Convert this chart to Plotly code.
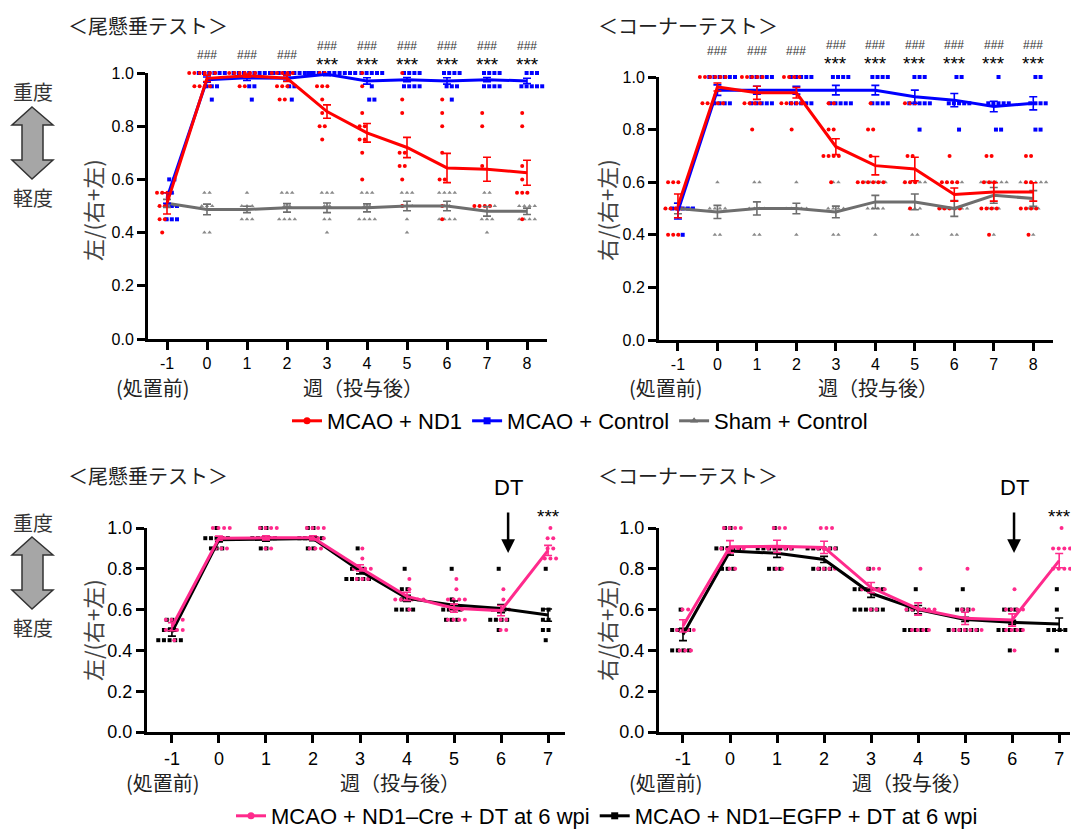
import plotly.graph_objects as go

# page body adds an 8px margin; figure is sized/positioned to compensate
OFF = 8
W, H = 1079 - OFF, 831 - OFF
def px(x): return (x - OFF) / W
def py(y): return 1 - (y - OFF) / H

# ---------------- data ----------------
weeks_top = [-1, 0, 1, 2, 3, 4, 5, 6, 7, 8]
weeks_bot = [-1, 0, 1, 2, 3, 4, 5, 6, 7]
ytick_vals = [0.0, 0.2, 0.4, 0.6, 0.8, 1.0]
ytick_text = ["0.0", "0.2", "0.4", "0.6", "0.8", "1.0"]

# Tail suspension test (top-left)
tail_nd1_mean = [0.51, 0.98, 0.99, 0.98, 0.855, 0.775, 0.72, 0.643, 0.638, 0.625]
tail_nd1_sem = [0.04, 0.012, 0.006, 0.012, 0.025, 0.035, 0.038, 0.055, 0.045, 0.047]
tail_ctrl_mean = [0.53, 0.975, 0.982, 0.98, 0.995, 0.97, 0.975, 0.97, 0.975, 0.97]
tail_ctrl_sem = [0.02, 0.01, 0.01, 0.01, 0.005, 0.012, 0.008, 0.012, 0.008, 0.01]
tail_sham_mean = [0.51, 0.487, 0.487, 0.493, 0.493, 0.493, 0.5, 0.5, 0.48, 0.48]
tail_sham_sem = [0.015, 0.02, 0.012, 0.016, 0.018, 0.015, 0.018, 0.018, 0.018, 0.012]

tail_nd1_pts = [
    [0.55, 0.55, 0.55, 0.5, 0.5, 0.45, 0.45, 0.4],
    [1.0, 1.0, 1.0, 1.0, 1.0, 1.0, 0.95, 0.95, 0.95, 0.95],
    [1.0, 1.0, 1.0, 1.0, 1.0, 1.0, 0.95, 0.95],
    [1.0, 1.0, 1.0, 1.0, 1.0, 0.95, 0.95, 0.95, 0.9, 0.9],
    [1.0, 1.0, 0.95, 0.95, 0.95, 0.9, 0.85, 0.8, 0.8, 0.75],
    [1.0, 0.95, 0.85, 0.8, 0.8, 0.75, 0.75, 0.7, 0.6],
    [1.0, 0.9, 0.85, 0.7, 0.7, 0.65, 0.65, 0.6, 0.5],
    [0.9, 0.85, 0.8, 0.7, 0.6, 0.6, 0.5, 0.45],
    [0.85, 0.8, 0.65, 0.5, 0.5, 0.5, 0.5],
    [0.85, 0.8, 0.65, 0.6, 0.55, 0.55, 0.55, 0.45],
]
tail_ctrl_pts = [
    [0.6, 0.6, 0.55, 0.5, 0.5, 0.5, 0.45, 0.45, 0.45],
    [1.0, 1.0, 1.0, 1.0, 1.0, 1.0, 0.95, 0.95, 0.95, 0.9],
    [1.0, 1.0, 1.0, 1.0, 1.0, 1.0, 1.0, 1.0, 0.95, 0.95, 0.9],
    [1.0, 1.0, 1.0, 1.0, 1.0, 1.0, 1.0, 1.0, 0.95, 0.95, 0.9],
    [1.0, 1.0, 1.0, 1.0, 1.0, 1.0, 1.0, 1.0, 1.0, 1.0],
    [1.0, 1.0, 1.0, 1.0, 1.0, 0.95, 0.9, 0.9],
    [1.0, 1.0, 1.0, 1.0, 0.95, 0.95, 0.95, 0.95],
    [1.0, 1.0, 1.0, 1.0, 0.95, 0.95, 0.95, 0.9],
    [1.0, 1.0, 1.0, 1.0, 0.95, 0.95, 0.95, 0.95],
    [1.0, 1.0, 1.0, 0.95, 0.95, 0.95, 0.95, 0.95],
]
tail_sham_pts = [
    [0.55, 0.55, 0.55, 0.5, 0.5, 0.5, 0.5, 0.45],
    [0.55, 0.55, 0.5, 0.5, 0.5, 0.4, 0.4],
    [0.55, 0.5, 0.5, 0.5, 0.45, 0.45, 0.45],
    [0.55, 0.55, 0.55, 0.5, 0.5, 0.45, 0.45, 0.45, 0.45],
    [0.55, 0.55, 0.55, 0.5, 0.5, 0.45, 0.45, 0.4],
    [0.55, 0.55, 0.55, 0.5, 0.5, 0.45, 0.45, 0.45, 0.45],
    [0.55, 0.55, 0.55, 0.5, 0.5, 0.5, 0.45, 0.4],
    [0.55, 0.55, 0.55, 0.55, 0.5, 0.5, 0.45, 0.45, 0.45, 0.45],
    [0.55, 0.55, 0.5, 0.5, 0.5, 0.5, 0.45, 0.45, 0.45, 0.4],
    [0.55, 0.5, 0.5, 0.5, 0.5, 0.45, 0.45, 0.45, 0.45],
]

# Corner test (top-right)
corner_nd1_mean = [0.51, 0.962, 0.94, 0.94, 0.735, 0.663, 0.65, 0.553, 0.563, 0.563]
corner_nd1_sem = [0.045, 0.015, 0.025, 0.02, 0.03, 0.035, 0.045, 0.025, 0.035, 0.035]
corner_ctrl_mean = [0.49, 0.95, 0.95, 0.95, 0.95, 0.95, 0.925, 0.912, 0.888, 0.9]
corner_ctrl_sem = [0.03, 0.02, 0.015, 0.015, 0.018, 0.018, 0.025, 0.025, 0.02, 0.025]
corner_sham_mean = [0.5, 0.487, 0.5, 0.5, 0.487, 0.525, 0.525, 0.5, 0.55, 0.538]
corner_sham_sem = [0.02, 0.025, 0.025, 0.02, 0.022, 0.025, 0.03, 0.03, 0.03, 0.03]

corner_nd1_pts = [
    [0.6, 0.6, 0.6, 0.5, 0.5, 0.5, 0.5, 0.4, 0.4, 0.4],
    [1.0, 1.0, 1.0, 1.0, 1.0, 1.0, 0.9, 0.9, 0.9, 0.9, 0.9],
    [1.0, 1.0, 1.0, 1.0, 1.0, 0.9, 0.9, 0.9, 0.9, 0.8],
    [1.0, 1.0, 1.0, 1.0, 0.9, 0.9, 0.9, 0.9, 0.9, 0.8],
    [0.9, 0.9, 0.8, 0.8, 0.7, 0.7, 0.7, 0.7, 0.6],
    [0.9, 0.8, 0.8, 0.7, 0.6, 0.6, 0.6, 0.6, 0.6, 0.6],
    [0.9, 0.9, 0.9, 0.7, 0.7, 0.6, 0.6, 0.6, 0.5],
    [0.7, 0.6, 0.6, 0.6, 0.6, 0.5, 0.5, 0.5, 0.5, 0.5],
    [0.7, 0.7, 0.6, 0.6, 0.6, 0.5, 0.5, 0.5, 0.5, 0.4],
    [0.7, 0.7, 0.6, 0.6, 0.5, 0.5, 0.5, 0.5, 0.4],
]
corner_ctrl_pts = [
    [0.5, 0.5, 0.5, 0.5, 0.5, 0.4],
    [1.0, 1.0, 1.0, 1.0, 1.0, 1.0, 0.9, 0.9, 0.9, 0.9],
    [1.0, 1.0, 1.0, 1.0, 1.0, 0.9, 0.9, 0.9, 0.9, 0.9],
    [1.0, 1.0, 1.0, 1.0, 1.0, 0.9, 0.9, 0.9, 0.9, 0.9],
    [1.0, 1.0, 1.0, 1.0, 0.9, 0.9, 0.9, 0.9, 0.9],
    [1.0, 1.0, 1.0, 1.0, 0.9, 0.9, 0.9, 0.9],
    [1.0, 1.0, 1.0, 0.9, 0.9, 0.9, 0.9, 0.9, 0.8],
    [1.0, 1.0, 0.9, 0.9, 0.9, 0.9, 0.9, 0.8],
    [1.0, 0.9, 0.9, 0.9, 0.9, 0.9, 0.8, 0.8],
    [1.0, 1.0, 0.9, 0.9, 0.9, 0.9, 0.8, 0.8],
]
corner_sham_pts = [
    [0.5, 0.5, 0.5, 0.5, 0.5, 0.5, 0.4],
    [0.6, 0.5, 0.5, 0.5, 0.5, 0.4, 0.4],
    [0.6, 0.6, 0.5, 0.5, 0.5, 0.5, 0.4, 0.4],
    [0.6, 0.5, 0.5, 0.5, 0.5, 0.5, 0.4],
    [0.6, 0.6, 0.5, 0.5, 0.5, 0.5, 0.4, 0.4],
    [0.6, 0.6, 0.6, 0.6, 0.6, 0.5, 0.5, 0.5, 0.5, 0.4],
    [0.6, 0.6, 0.6, 0.6, 0.6, 0.5, 0.5, 0.5, 0.4, 0.4],
    [0.6, 0.6, 0.6, 0.6, 0.5, 0.5, 0.5, 0.5, 0.5, 0.5, 0.4, 0.4],
    [0.6, 0.6, 0.6, 0.6, 0.6, 0.6, 0.5, 0.5, 0.5, 0.4],
    [0.6, 0.6, 0.6, 0.6, 0.6, 0.6, 0.5, 0.5, 0.5, 0.4],
]

# DT experiment, tail suspension (bottom-left)
dt_tail_cre_mean = [0.516, 0.95, 0.952, 0.952, 0.805, 0.665, 0.607, 0.595, 0.89]
dt_tail_cre_sem = [0.02, 0.01, 0.01, 0.01, 0.015, 0.02, 0.02, 0.025, 0.025]
dt_tail_egfp_mean = [0.49, 0.942, 0.945, 0.948, 0.79, 0.655, 0.622, 0.605, 0.573]
dt_tail_egfp_sem = [0.02, 0.01, 0.01, 0.01, 0.015, 0.015, 0.02, 0.02, 0.03]

dt_tail_cre_pts = [
    [0.55, 0.55, 0.55, 0.55, 0.5, 0.5, 0.5, 0.5, 0.45],
    [1.0, 1.0, 1.0, 1.0, 0.95, 0.95, 0.9, 0.9, 0.9],
    [1.0, 1.0, 1.0, 1.0, 0.95, 0.95, 0.95, 0.9, 0.9],
    [1.0, 1.0, 1.0, 1.0, 0.95, 0.95, 0.95, 0.95, 0.9, 0.9, 0.9],
    [0.9, 0.85, 0.8, 0.8, 0.8, 0.8, 0.75, 0.75, 0.75],
    [0.75, 0.7, 0.65, 0.65, 0.65, 0.65, 0.65, 0.65, 0.6],
    [0.75, 0.7, 0.65, 0.65, 0.65, 0.65, 0.6, 0.6, 0.6, 0.55, 0.55, 0.55, 0.55],
    [0.7, 0.65, 0.6, 0.6, 0.6, 0.55, 0.55, 0.5, 0.5],
    [1.0, 0.95, 0.95, 0.9, 0.9, 0.85, 0.85, 0.85],
]
dt_tail_egfp_pts = [
    [0.55, 0.55, 0.5, 0.5, 0.5, 0.45, 0.45, 0.45, 0.45, 0.45],
    [1.0, 0.95, 0.95, 0.95, 0.95, 0.95, 0.9, 0.9, 0.9],
    [1.0, 1.0, 0.95, 0.95, 0.95, 0.95, 0.95, 0.9, 0.9],
    [1.0, 1.0, 0.95, 0.95, 0.95, 0.95, 0.95, 0.9, 0.9],
    [0.9, 0.8, 0.8, 0.8, 0.75, 0.75, 0.75, 0.75, 0.75],
    [0.8, 0.7, 0.7, 0.65, 0.65, 0.6, 0.6, 0.6, 0.6],
    [0.8, 0.65, 0.6, 0.6, 0.6, 0.6, 0.55, 0.55, 0.55],
    [0.8, 0.6, 0.6, 0.6, 0.55, 0.55, 0.55, 0.55, 0.5],
    [0.8, 0.6, 0.6, 0.55, 0.55, 0.5, 0.5, 0.45],
]

# DT experiment, corner test (bottom-right)
dt_corner_cre_mean = [0.52, 0.908, 0.91, 0.905, 0.708, 0.603, 0.557, 0.549, 0.84]
dt_corner_cre_sem = [0.03, 0.03, 0.03, 0.03, 0.025, 0.03, 0.03, 0.03, 0.035]
dt_corner_egfp_mean = [0.478, 0.887, 0.876, 0.846, 0.68, 0.6, 0.552, 0.538, 0.529]
dt_corner_egfp_sem = [0.03, 0.02, 0.02, 0.015, 0.02, 0.02, 0.01, 0.01, 0.03]

dt_corner_cre_pts = [
    [0.6, 0.6, 0.5, 0.5, 0.5, 0.5, 0.4, 0.4, 0.4],
    [1.0, 1.0, 1.0, 1.0, 0.9, 0.9, 0.9, 0.9, 0.9, 0.8, 0.8],
    [1.0, 1.0, 1.0, 0.9, 0.9, 0.9, 0.9, 0.9, 0.8, 0.8],
    [1.0, 1.0, 1.0, 0.9, 0.9, 0.9, 0.9, 0.8, 0.8, 0.8, 0.8],
    [0.8, 0.8, 0.8, 0.7, 0.7, 0.7, 0.7, 0.7, 0.6, 0.6],
    [0.8, 0.6, 0.6, 0.6, 0.6, 0.6, 0.6, 0.5, 0.5, 0.5, 0.5],
    [0.8, 0.6, 0.6, 0.6, 0.5, 0.5, 0.5, 0.5, 0.5, 0.5],
    [0.7, 0.6, 0.6, 0.6, 0.6, 0.5, 0.5, 0.5, 0.5, 0.4],
    [1.0, 0.9, 0.9, 0.9, 0.9, 0.8, 0.8, 0.8, 0.8],
]
dt_corner_egfp_pts = [
    [0.6, 0.5, 0.5, 0.5, 0.5, 0.4, 0.4, 0.4, 0.4],
    [1.0, 1.0, 0.9, 0.9, 0.9, 0.9, 0.9, 0.8, 0.8, 0.8],
    [1.0, 0.9, 0.9, 0.9, 0.9, 0.9, 0.9, 0.9, 0.8, 0.8, 0.8],
    [0.9, 0.9, 0.9, 0.9, 0.9, 0.9, 0.8, 0.8, 0.8, 0.8],
    [0.8, 0.7, 0.7, 0.7, 0.7, 0.7, 0.7, 0.6, 0.6, 0.6, 0.6, 0.6, 0.6],
    [0.7, 0.6, 0.6, 0.6, 0.6, 0.5, 0.5, 0.5, 0.5, 0.5],
    [0.7, 0.6, 0.6, 0.6, 0.5, 0.5, 0.5, 0.5, 0.5, 0.5],
    [0.6, 0.6, 0.6, 0.5, 0.5, 0.5, 0.5, 0.5, 0.4],
    [0.7, 0.6, 0.5, 0.5, 0.5, 0.5, 0.4],
]

# significance marks
top_hash_weeks = [0, 1, 2, 3, 4, 5, 6, 7, 8]
top_star_weeks = [3, 4, 5, 6, 7, 8]
bot_star_weeks = [7]
dt_week = 6

# ---------------- style ----------------
RED = "#ff0000"
BLUE = "#0000ff"
GRAY = "#6e6e6e"
GRAY_PT = "#8a8a8a"
PINK = "#ff2a8c"
BLACK = "#000000"
FONT = "Liberation Sans, Arial, Noto Sans CJK JP"
JFONT = "Noto Sans CJK JP, Liberation Sans"

fig = go.Figure()


def spread(weeks, pts, offset, step):
    xs, ys = [], []
    for w, vals in zip(weeks, pts):
        counts = {}
        for v in vals:
            counts[v] = counts.get(v, 0) + 1
        for v, k in counts.items():
            for i in range(k):
                xs.append(w + offset + (i - (k - 1) / 2) * step)
                ys.append(v)
    return xs, ys


def add_points(weeks, pts, color, symbol, offset, step, xa, ya, size=4):
    xs, ys = spread(weeks, pts, offset, step)
    fig.add_trace(go.Scatter(x=xs, y=ys, mode="markers", xaxis=xa, yaxis=ya,
                             marker=dict(color=color, symbol=symbol, size=size, line=dict(width=0)),
                             showlegend=False, cliponaxis=False, hoverinfo="skip"))


def add_mean(weeks, mean, sem, color, xa, ya, width=3):
    fig.add_trace(go.Scatter(x=weeks, y=mean, mode="lines", xaxis=xa, yaxis=ya,
                             line=dict(color=color, width=width),
                             error_y=dict(type="data", array=sem, color=color, thickness=1.6, width=4),
                             showlegend=False, cliponaxis=False))


def add_legend(name, color, symbol, legend):
    fig.add_trace(go.Scatter(x=[None], y=[None], mode="lines+markers", name=name,
                             line=dict(color=color, width=3),
                             marker=dict(color=color, symbol=symbol, size=7),
                             legend=legend))


# top-left
add_points(weeks_top, tail_sham_pts, GRAY_PT, "triangle-up", 0.0, 0.13, "x", "y")
add_points(weeks_top, tail_ctrl_pts, BLUE, "square", 0.12, 0.13, "x", "y")
add_points(weeks_top, tail_nd1_pts, RED, "circle", -0.12, 0.13, "x", "y")
add_mean(weeks_top, tail_sham_mean, tail_sham_sem, GRAY, "x", "y")
add_mean(weeks_top, tail_ctrl_mean, tail_ctrl_sem, BLUE, "x", "y")
add_mean(weeks_top, tail_nd1_mean, tail_nd1_sem, RED, "x", "y")

# top-right
add_points(weeks_top, corner_sham_pts, GRAY_PT, "triangle-up", 0.0, 0.13, "x2", "y2")
add_points(weeks_top, corner_ctrl_pts, BLUE, "square", 0.12, 0.13, "x2", "y2")
add_points(weeks_top, corner_nd1_pts, RED, "circle", -0.12, 0.13, "x2", "y2")
add_mean(weeks_top, corner_sham_mean, corner_sham_sem, GRAY, "x2", "y2")
add_mean(weeks_top, corner_ctrl_mean, corner_ctrl_sem, BLUE, "x2", "y2")
add_mean(weeks_top, corner_nd1_mean, corner_nd1_sem, RED, "x2", "y2")

# bottom-left
add_points(weeks_bot, dt_tail_egfp_pts, BLACK, "square", -0.05, 0.12, "x3", "y3")
add_points(weeks_bot, dt_tail_cre_pts, PINK, "circle", 0.05, 0.12, "x3", "y3")
add_mean(weeks_bot, dt_tail_egfp_mean, dt_tail_egfp_sem, BLACK, "x3", "y3")
add_mean(weeks_bot, dt_tail_cre_mean, dt_tail_cre_sem, PINK, "x3", "y3")

# bottom-right
add_points(weeks_bot, dt_corner_egfp_pts, BLACK, "square", -0.05, 0.12, "x4", "y4")
add_points(weeks_bot, dt_corner_cre_pts, PINK, "circle", 0.05, 0.12, "x4", "y4")
add_mean(weeks_bot, dt_corner_egfp_mean, dt_corner_egfp_sem, BLACK, "x4", "y4")
add_mean(weeks_bot, dt_corner_cre_mean, dt_corner_cre_sem, PINK, "x4", "y4")

# legends
add_legend("MCAO + ND1", RED, "circle", "legend")
add_legend("MCAO + Control", BLUE, "square", "legend")
add_legend("Sham + Control", GRAY, "triangle-up", "legend")
add_legend("MCAO + ND1\u2013Cre + DT at 6 wpi", PINK, "circle", "legend2")
add_legend("MCAO + ND1\u2013EGFP + DT at 6 wpi", BLACK, "square", "legend2")

# ---------------- axes ----------------
def xax(domain, rng, weeks, size):
    return dict(domain=domain, range=rng, tickvals=weeks, ticktext=[str(w) for w in weeks],
                showline=True, linewidth=3, linecolor="black", ticks="outside", ticklen=8,
                tickwidth=2.5, tickcolor="black", showgrid=False, zeroline=False,
                tickfont=dict(family=FONT, size=size, color="black"), fixedrange=True)


def yax(domain, size, anchor):
    return dict(domain=domain, range=[0, 1.0], tickvals=ytick_vals, ticktext=ytick_text,
                showline=True, linewidth=3, linecolor="black", ticks="outside", ticklen=8,
                tickwidth=2.5, tickcolor="black", showgrid=False, zeroline=False,
                tickfont=dict(family=FONT, size=size, color="black"), anchor=anchor)


fig.update_layout(
    xaxis=dict(xax([px(148), px(547)], [-1.475, 8.5], weeks_top, 16), anchor="y"),
    yaxis=yax([py(339), py(73)], 16, "x"),
    xaxis2=dict(xax([px(659), px(1053)], [-1.48, 8.5], weeks_top, 16), anchor="y2"),
    yaxis2=yax([py(340), py(77)], 16, "x2"),
    xaxis3=dict(xax([px(147), px(565)], [-1.53, 7.36], weeks_bot, 18), anchor="y3"),
    yaxis3=yax([py(732), py(528)], 18, "x3"),
    xaxis4=dict(xax([px(659), px(1070)], [-1.51, 7.23], weeks_bot, 18), anchor="y4"),
    yaxis4=yax([py(732), py(528)], 18, "x4"),
)

# ---------------- annotations ----------------
ann = []


def text(x, y, s, size, color="#222", font=JFONT, xanchor="center", xref="paper", angle=0,
         yanchor="middle"):
    ann.append(dict(x=x, y=y, xref=xref, yref="paper", text=s, showarrow=False,
                    font=dict(family=font, size=size, color=color), xanchor=xanchor,
                    yanchor=yanchor, textangle=angle))


# panel titles
text(px(66), py(9), "＜尾懸垂テスト＞", 20, xanchor="left", yanchor="top")
text(px(596), py(9), "＜コーナーテスト＞", 20, xanchor="left", yanchor="top")
text(px(66), py(476), "＜尾懸垂テスト＞", 20, xanchor="left")
text(px(596), py(476), "＜コーナーテスト＞", 20, xanchor="left")

# y titles
text(px(92), py(210), "左/(右+左)", 22, color="#444", angle=-90)
text(px(606), py(210), "右/(右+左)", 22, color="#444", angle=-90)
text(px(92), py(630), "左/(右+左)", 22, color="#444", angle=-90)
text(px(606), py(630), "右/(右+左)", 22, color="#444", angle=-90)

# x sub-labels
text(px(153), py(387), "(処置前)", 20)
text(px(363), py(387), "週（投与後）", 20)
text(px(666), py(387), "(処置前)", 20)
text(px(878), py(387), "週（投与後）", 20)
text(px(163), py(782), "(処置前)", 20)
text(px(400), py(782), "週（投与後）", 20)
text(px(666), py(782), "(処置前)", 20)
text(px(912), py(782), "週（投与後）", 20)

# severity labels
for y0 in (0, 430):
    text(px(33), py(92 + y0), "重度", 20, color="#333")
    text(px(33), py(197 + y0), "軽度", 20, color="#333")

# significance marks, top panels
for xr, yh0, yh, ys in (("x", 55, 46, 63), ("x2", 51, 45, 61)):
    for w in top_hash_weeks:
        ann.append(dict(x=w, y=py(yh0 if w not in top_star_weeks else yh), xref=xr, yref="paper",
                        text="###", showarrow=False, xanchor="center", yanchor="middle",
                        font=dict(family=FONT, size=12, color="#333")))
    for w in top_star_weeks:
        ann.append(dict(x=w, y=py(ys + 2), xref=xr, yref="paper", text="***", showarrow=False,
                        xanchor="center", yanchor="middle",
                        font=dict(family=FONT, size=19, color="black")))

# bottom panels: DT arrow and stars
for xr, dx in (("x3", 0.15), ("x4", 0.04)):
    for w in bot_star_weeks:
        ann.append(dict(x=w, y=py(516), xref=xr, yref="paper", text="***", showarrow=False,
                        xanchor="center", yanchor="middle",
                        font=dict(family=FONT, size=19, color="black")))
    ann.append(dict(x=dt_week + dx, y=py(488), xref=xr, yref="paper", text="DT", showarrow=False,
                    xanchor="center", yanchor="middle",
                    font=dict(family=FONT, size=22, color="black")))
    ann.append(dict(x=dt_week + dx, y=py(553), xref=xr, yref="paper", text="", showarrow=True,
                    ax=0, ay=-42, arrowhead=2, arrowsize=1.1, arrowwidth=2.5, arrowcolor="black"))

fig.update_layout(annotations=ann)

# double arrows (severity)
shapes = []
for y0 in (0, 430):
    pts = [(32, 107), (53, 125), (43, 125), (43, 160), (53, 160), (32, 179),
           (12, 160), (22, 160), (22, 125), (12, 125)]
    path = "M " + " L ".join(f"{px(x):.5f},{py(y + y0):.5f}" for x, y in pts) + " Z"
    shapes.append(dict(type="path", path=path, xref="paper", yref="paper",
                       fillcolor="#a6a6a6", line=dict(color="#333", width=1.5)))
fig.update_layout(shapes=shapes)

LEG_FONT = dict(family="Liberation Sans, Arial", size=22, color="black")
fig.update_layout(
    width=W, height=H, margin=dict(l=0, r=0, t=0, b=0, autoexpand=False),
    paper_bgcolor="white", plot_bgcolor="white", showlegend=True,
    legend=dict(orientation="h", x=px(580), xanchor="center", y=py(421), yanchor="middle",
                font=LEG_FONT, itemwidth=30, bgcolor="rgba(0,0,0,0)"),
    legend2=dict(orientation="h", x=px(607), xanchor="center", y=py(816), yanchor="middle",
                 font=LEG_FONT, itemwidth=30, bgcolor="rgba(0,0,0,0)"),
)

fig.write_html("out.html")
